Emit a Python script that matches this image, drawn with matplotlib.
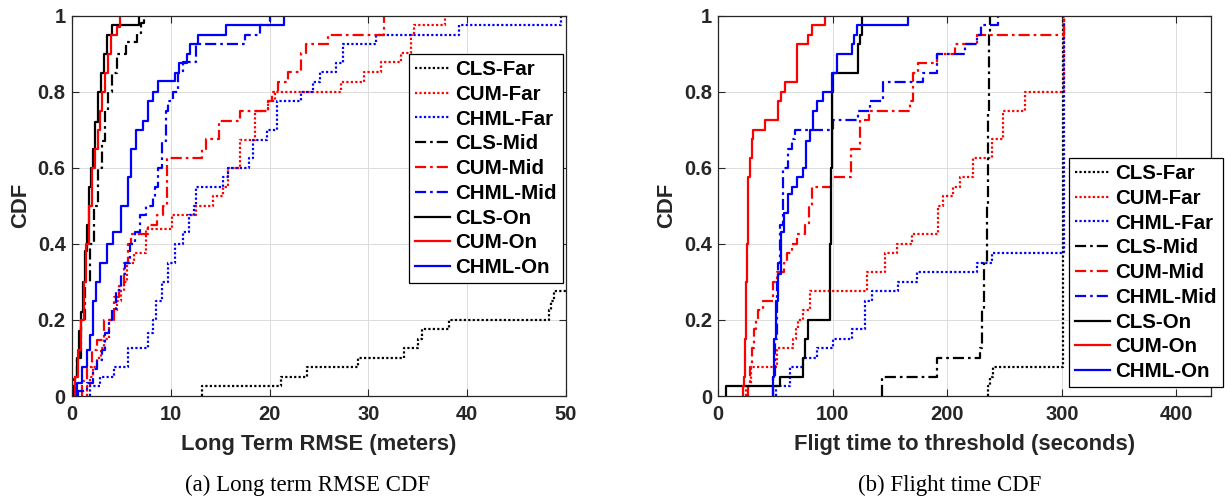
import matplotlib
matplotlib.use("Agg")
import matplotlib.pyplot as plt

labels = ["CLS-Far", "CUM-Far", "CHML-Far", "CLS-Mid", "CUM-Mid", "CHML-Mid",
          "CLS-On", "CUM-On", "CHML-On"]
colors = ["k", "r", "b", "k", "r", "b", "k", "r", "b"]
styles = ["dot", "dot", "dot", "dashdot", "dashdot", "dashdot", "solid", "solid", "solid"]

# ---------------- (a) Long term RMSE (meters) ----------------
a_cls_far_x = [13.2, 21.2, 23.8, 28.9, 33.6, 35.0, 35.4, 38.2, 48.3, 48.5, 48.8, 50.5]
a_cls_far_y = [0.025, 0.05, 0.075, 0.1, 0.125, 0.15, 0.175, 0.2, 0.225, 0.25, 0.275, 0.3]
a_cum_far_x = [1.5, 1.8, 2.1, 2.5, 2.9, 3.2, 3.7, 4.3, 4.6, 5.0, 5.3, 5.6, 6.3, 7.5, 10.1, 12.6,
               14.3, 15.3, 15.8, 17.0, 18.5, 19.8, 20.5, 27.2, 29.6, 31.3, 33.3, 34.3, 34.6, 37.8]
a_cum_far_y = [0.025, 0.05, 0.075, 0.1, 0.125, 0.15, 0.2, 0.225, 0.25, 0.275, 0.3, 0.35, 0.375,
               0.44, 0.475, 0.5, 0.525, 0.55, 0.6, 0.672, 0.75, 0.776, 0.8, 0.825, 0.851, 0.877,
               0.903, 0.95, 0.975, 1.0]
a_chml_far_x = [1.8, 2.8, 4.3, 5.7, 7.7, 8.2, 8.5, 9.1, 9.7, 10.4, 11.2, 11.8, 12.3, 12.6, 15.3,
                15.8, 17.9, 18.3, 19.7, 20.7, 23.2, 24.4, 25.1, 26.7, 27.4, 30.8, 39.2, 49.5]
a_chml_far_y = [0.025, 0.05, 0.077, 0.125, 0.165, 0.2, 0.25, 0.3, 0.35, 0.4, 0.43, 0.475, 0.5,
                0.55, 0.575, 0.6, 0.625, 0.672, 0.7, 0.777, 0.8, 0.825, 0.851, 0.875, 0.926,
                0.95, 0.975, 1.0]
a_cls_mid_x = [0.2, 0.5, 0.95, 1.3, 1.8, 2.2, 2.6, 3.0, 3.3, 3.6, 4.0, 4.6, 5.5, 6.6, 7.0, 7.3]
a_cls_mid_y = [0.05, 0.1, 0.2, 0.3, 0.4, 0.5, 0.6, 0.67, 0.75, 0.8, 0.85, 0.9, 0.93, 0.955,
               0.98, 1.0]
a_cum_mid_x = [1.0, 1.5, 2.0, 2.5, 3.2, 4.3, 4.8, 5.3, 5.7, 6.0, 7.7, 8.6, 9.2, 9.6, 13.2, 13.6,
               14.9, 17.0, 19.8, 20.2, 20.8, 21.9, 23.2, 23.7, 25.9, 31.6]
a_cum_mid_y = [0.04, 0.077, 0.12, 0.147, 0.2, 0.26, 0.29, 0.35, 0.4, 0.427, 0.45, 0.475, 0.5,
               0.625, 0.65, 0.676, 0.724, 0.75, 0.776, 0.8, 0.825, 0.851, 0.903, 0.926, 0.95, 1.0]
a_chml_mid_x = [0.6, 1.5, 2.1, 2.5, 3.0, 3.3, 3.7, 4.0, 4.5, 5.0, 5.4, 5.9, 6.4, 6.9, 7.5, 8.2,
                8.4, 8.7, 9.1, 9.5, 9.7, 10.2, 10.7, 11.2, 12.6, 17.5, 19.0, 20.0]
a_chml_mid_y = [0.012, 0.033, 0.07, 0.095, 0.12, 0.165, 0.2, 0.225, 0.28, 0.32, 0.35, 0.4, 0.43,
                0.475, 0.5, 0.52, 0.55, 0.6, 0.67, 0.75, 0.777, 0.8, 0.85, 0.877, 0.925, 0.95,
                0.975, 1.0]
a_cls_on_x = [0.3, 0.5, 0.7, 0.9, 1.1, 1.3, 1.5, 1.7, 1.9, 2.1, 2.3, 2.6, 2.9, 3.2, 3.5, 4.0, 6.8]
a_cls_on_y = [0.05, 0.1, 0.17, 0.22, 0.3, 0.38, 0.45, 0.55, 0.6, 0.65, 0.72, 0.8, 0.85, 0.9,
              0.95, 0.975, 1.0]
a_cum_on_x = [0.3, 0.6, 0.9, 1.2, 1.45, 1.7, 2.0, 2.3, 2.6, 2.8, 3.0, 3.3, 3.6, 3.9, 4.6, 4.9]
a_cum_on_y = [0.05, 0.12, 0.2, 0.3, 0.4, 0.5, 0.6, 0.65, 0.7, 0.75, 0.8, 0.85, 0.9, 0.95, 0.97, 1.0]
a_chml_on_x = [0.5, 1.0, 1.5, 1.8, 2.1, 2.4, 2.8, 3.5, 4.2, 5.0, 5.7, 6.0, 6.5, 7.2, 7.7, 8.2,
               8.7, 10.4, 10.8, 11.6, 11.9, 12.8, 15.6, 21.5]
a_chml_on_y = [0.033, 0.077, 0.12, 0.16, 0.25, 0.3, 0.35, 0.4, 0.43, 0.5, 0.576, 0.65, 0.7,
               0.724, 0.777, 0.8, 0.827, 0.85, 0.876, 0.9, 0.925, 0.95, 0.975, 1.0]

# ---------------- (b) Flight time to threshold (seconds) ----------------
b_cls_far_x = [235.7, 237.5, 240.0, 301.0]
b_cls_far_y = [0.025, 0.05, 0.077, 1.0]
b_cum_far_x = [24.0, 28.5, 51.5, 65.5, 68.0, 70.0, 74.3, 80.5, 129.6, 145.6, 155.8, 169.0,
               192.2, 196.6, 205.0, 211.0, 222.7, 238.7, 248.9, 268.0, 302.0]
b_cum_far_y = [0.025, 0.075, 0.125, 0.15, 0.175, 0.2, 0.225, 0.275, 0.325, 0.375, 0.4, 0.425,
               0.5, 0.525, 0.55, 0.575, 0.625, 0.675, 0.75, 0.8, 1.0]
b_chml_far_x = [50.5, 62.6, 74.3, 86.0, 100.5, 116.5, 128.1, 134.0, 157.2, 173.3, 225.6, 238.7,
                301.5]
b_chml_far_y = [0.025, 0.075, 0.1, 0.125, 0.15, 0.175, 0.25, 0.275, 0.3, 0.325, 0.35, 0.375, 1.0]
b_cls_mid_x = [142.7, 190.7, 228.6, 230.0, 232.0, 234.4, 235.5, 236.5, 237.3]
b_cls_mid_y = [0.05, 0.1, 0.125, 0.225, 0.35, 0.5, 0.75, 0.95, 1.0]
b_cum_mid_x = [25.5, 27.6, 29.0, 31.0, 33.0, 35.0, 39.3, 48.0, 51.0, 57.0, 60.0, 64.0, 68.4,
               75.7, 79.0, 81.6, 98.0, 115.5, 124.0, 131.5, 167.0, 170.0, 174.8, 190.8, 207.0,
               225.6, 302.0]
b_cum_mid_y = [0.025, 0.075, 0.125, 0.175, 0.2, 0.225, 0.25, 0.3, 0.325, 0.35, 0.375, 0.4,
               0.425, 0.45, 0.5, 0.55, 0.575, 0.65, 0.725, 0.75, 0.775, 0.85, 0.875, 0.9, 0.925,
               0.95, 1.0]
b_chml_mid_x = [48.0, 49.5, 51.0, 52.5, 54.0, 56.8, 61.2, 64.0, 67.0, 100.5, 122.3, 132.5,
                144.0, 179.0, 190.8, 215.6, 225.6, 229.0, 244.6]
b_chml_mid_y = [0.05, 0.15, 0.3, 0.35, 0.45, 0.6, 0.65, 0.675, 0.7, 0.725, 0.75, 0.775, 0.825,
                0.85, 0.9, 0.925, 0.95, 0.975, 1.0]
b_cls_on_x = [6.5, 54.0, 74.3, 76.0, 78.6, 97.6, 98.5, 99.5, 100.5, 122.3, 124.0, 125.2]
b_cls_on_y = [0.025, 0.05, 0.1, 0.15, 0.2, 0.4, 0.6, 0.8, 0.85, 0.925, 0.95, 1.0]
b_cum_on_x = [21.9, 22.5, 23.3, 24.0, 24.8, 25.5, 26.2, 27.5, 29.2, 30.6, 40.8, 52.4, 55.0,
              58.2, 68.4, 78.6, 81.6, 93.2]
b_cum_on_y = [0.025, 0.05, 0.15, 0.3, 0.4, 0.5, 0.575, 0.625, 0.675, 0.7, 0.725, 0.775, 0.8,
              0.825, 0.925, 0.95, 0.975, 1.0]
b_chml_on_x = [47.5, 49.0, 50.5, 52.0, 55.0, 57.0, 60.5, 64.0, 68.4, 74.3, 77.0, 80.0, 83.0,
               86.0, 91.7, 99.0, 103.4, 116.5, 118.5, 120.8, 165.5]
b_chml_on_y = [0.05, 0.15, 0.25, 0.32, 0.43, 0.48, 0.53, 0.55, 0.575, 0.6, 0.67, 0.7, 0.75,
               0.777, 0.8, 0.85, 0.9, 0.925, 0.95, 0.975, 1.0]

a_series = [(a_cls_far_x, a_cls_far_y), (a_cum_far_x, a_cum_far_y), (a_chml_far_x, a_chml_far_y),
            (a_cls_mid_x, a_cls_mid_y), (a_cum_mid_x, a_cum_mid_y), (a_chml_mid_x, a_chml_mid_y),
            (a_cls_on_x, a_cls_on_y), (a_cum_on_x, a_cum_on_y), (a_chml_on_x, a_chml_on_y)]
b_series = [(b_cls_far_x, b_cls_far_y), (b_cum_far_x, b_cum_far_y), (b_chml_far_x, b_chml_far_y),
            (b_cls_mid_x, b_cls_mid_y), (b_cum_mid_x, b_cum_mid_y), (b_chml_mid_x, b_chml_mid_y),
            (b_cls_on_x, b_cls_on_y), (b_cum_on_x, b_cum_on_y), (b_chml_on_x, b_chml_on_y)]

a_xticks = [0, 10, 20, 30, 40, 50]
b_xticks = [0, 100, 200, 300, 400]
yticks = [0, 0.2, 0.4, 0.6, 0.8, 1.0]
ytick_labels = ["0", "0.2", "0.4", "0.6", "0.8", "1"]

plt.rcParams["font.family"] = ["Liberation Sans", "DejaVu Sans"]

dash_map = {"dot": (0, (1.0, 1.0)), "dashdot": (0, (5.0, 1.8, 1.2, 1.8)), "solid": "-"}
TXT = "#262626"

fig = plt.figure(figsize=(12.25, 5.0), dpi=100)
axA = fig.add_axes([72 / 1225, 104 / 500, 494 / 1225, 380.3 / 500])
axB = fig.add_axes([718.3 / 1225, 104 / 500, 492.4 / 1225, 380.3 / 500])


def draw(ax, series, xlim, xticks, xlabel):
    for (xs, ys), lab, c, st in zip(series, labels, colors, styles):
        px = [xs[0]] + list(xs)
        py = [0.0] + list(ys)
        ax.step(px, py, where="post", color=c, linestyle=dash_map[st], lw=1.6, label=lab)
    ax.set_xlim(*xlim)
    ax.set_ylim(0, 1)
    ax.set_xticks(xticks)
    ax.set_xticklabels([str(t) for t in xticks])
    ax.set_yticks(yticks)
    ax.set_yticklabels(ytick_labels)
    ax.grid(True, color="#dcdcdc", lw=0.7)
    ax.set_axisbelow(True)
    ax.tick_params(direction="in", length=5, width=0.8, top=True, right=True,
                   labelsize=14.5, colors=TXT)
    ax.tick_params(axis="x", pad=6.5)
    ax.tick_params(axis="y", pad=4.5)
    for lbl in ax.get_xticklabels() + ax.get_yticklabels():
        lbl.set_fontweight("bold")
        lbl.set_color(TXT)
    for sp in ax.spines.values():
        sp.set_color(TXT)
        sp.set_linewidth(0.9)
    ax.set_xlabel(xlabel, fontsize=15.8, fontweight="bold", labelpad=7, color=TXT)
    ax.set_ylabel("CDF", fontsize=15.8, fontweight="bold", labelpad=5, color=TXT)


draw(axA, a_series, (0, 50), a_xticks, "Long Term RMSE (meters)")
draw(axB, b_series, (0, 430), b_xticks, "Fligt time to threshold (seconds)")

leg_kw = dict(loc="upper right", bbox_transform=fig.transFigure, borderaxespad=0,
              fancybox=False, framealpha=1, edgecolor="black",
              prop={"weight": "bold", "size": 14.8}, handlelength=1.7,
              handletextpad=0.25, labelspacing=0.28, borderpad=0.3)
lA = axA.legend(bbox_to_anchor=(563 / 1225, 1 - 54 / 500), **leg_kw)
lB = axB.legend(bbox_to_anchor=(1223 / 1225, 1 - 158 / 500), **leg_kw)
for lg in (lA, lB):
    lg.get_frame().set_linewidth(0.9)

fig.text(308 / 1225, 1 - 485 / 500, "(a) Long term RMSE CDF", ha="center", va="center",
         fontsize=16.5, family=["Liberation Serif", "DejaVu Serif"])
fig.text(950 / 1225, 1 - 485 / 500, "(b) Flight time CDF", ha="center", va="center",
         fontsize=16.5, family=["Liberation Serif", "DejaVu Serif"])

fig.savefig("out.png", dpi=100)
